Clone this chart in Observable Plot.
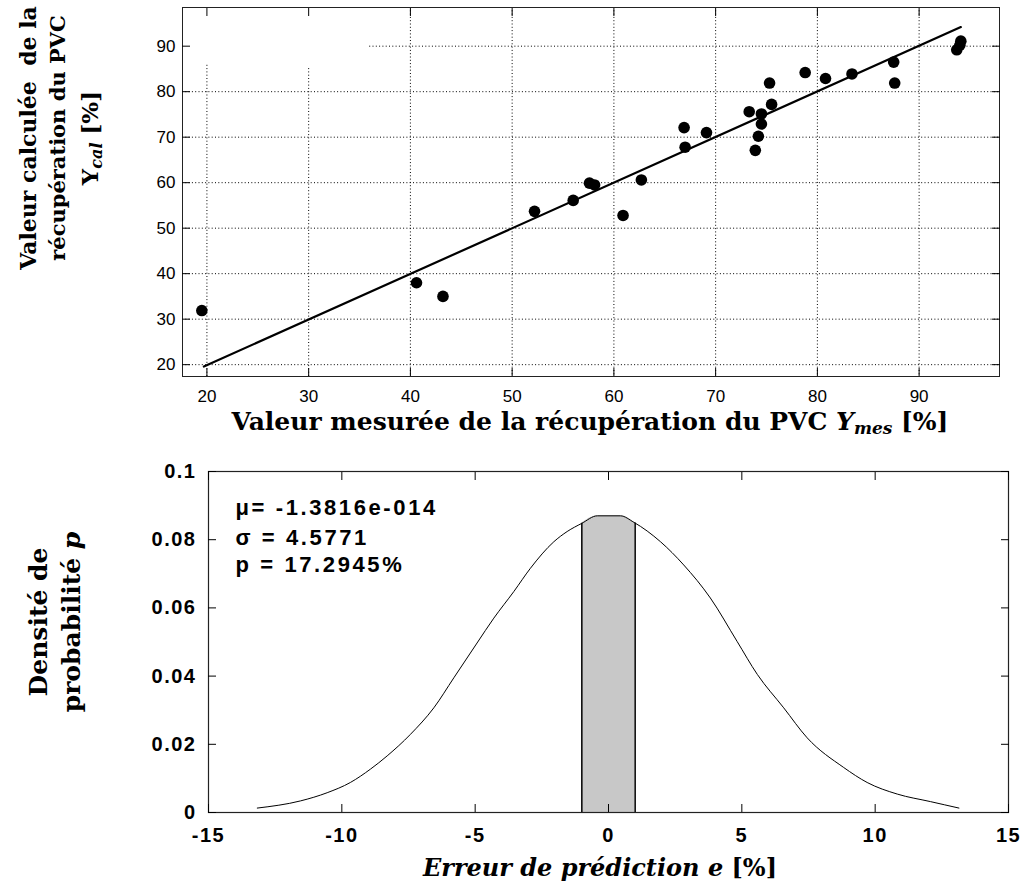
<!DOCTYPE html>
<html><head><meta charset="utf-8">
<script src="https://cdn.jsdelivr.net/npm/d3@7"></script>
<script src="https://cdn.jsdelivr.net/npm/@observablehq/plot@0.6"></script>
<style>
body{margin:0;background:#fff;}
#chart{position:relative;width:1023px;height:885px;overflow:hidden;}
#chart svg{display:block;}
</style></head><body><div id="chart"></div>
<script>
// ---------- top chart data ----------
const measured   = [19.5, 40.6, 43.2, 52.2, 56.0, 57.6, 58.1, 60.9, 62.7, 66.9, 67.0, 69.1, 73.3, 73.9, 74.2, 74.5, 74.5, 75.3, 75.5, 78.8, 80.8, 83.4, 87.5, 87.6, 93.7, 94.0, 94.1];
const calculated = [31.9, 38.0, 35.0, 53.7, 56.1, 59.9, 59.5, 52.8, 60.6, 72.1, 67.8, 71.0, 75.6, 67.1, 70.2, 72.9, 75.1, 81.9, 77.2, 84.2, 82.9, 83.9, 86.5, 81.9, 89.2, 90.2, 91.1];
const fitX = [19.7, 94.1];
const fitY = [19.6, 94.2];
const topTicks = [20, 30, 40, 50, 60, 70, 80, 90];
const partialGridX = [20, 30];
const partialGridTop = [86.2, 85.3];
const grid90From = 36;
const topXTitle = ["Valeur mesurée de la récupération du PVC ", "Y", "mes", " [%]"];
const topYTitle = ["Valeur calculée  de la", "récupération du PVC", "Y", "cal", " [%]"];

// ---------- bottom chart data ----------
const curveE = [-13.17, -11.55, -10.55, -9.68, -8.93, -8.30, -7.43, -6.55, -5.80, -4.93, -4.30, -3.55, -2.93, -2.05, -1.55, -1.00, -0.42, 0.45, 0.95, 1.95, 2.82, 3.82, 4.82, 5.58, 6.57, 7.45, 8.82, 9.70, 10.83, 12.07, 13.14];
const curveP = [0.0013, 0.0034, 0.0058, 0.0088, 0.0127, 0.0166, 0.0229, 0.0307, 0.0395, 0.0497, 0.0570, 0.0648, 0.0716, 0.0794, 0.0824, 0.0848, 0.0870, 0.0870, 0.0851, 0.0794, 0.0726, 0.0629, 0.0502, 0.0405, 0.0307, 0.0219, 0.0132, 0.0088, 0.0054, 0.0032, 0.0013];
const bandE = [-1.0, -0.42, 0.45, 1.0];
const bandP = [0.0848, 0.0870, 0.0870, 0.0849];
const bottomXTicks = [-15, -10, -5, 0, 5, 10, 15];
const bottomYTicks = [0, 0.02, 0.04, 0.06, 0.08, 0.1];
const statsLines = ["μ= -1.3816e-014", "σ = 4.5771", "p = 17.2945%"];
const bottomXTitle = ["Erreur de prédiction e", " [%]"];
const bottomYTitle = ["Densité de", "probabilité ", "p"];

const serif = "'DejaVu Serif', 'Liberation Serif', serif";
const sans = "'Liberation Sans', Arial, Helvetica, sans-serif";
const chart = document.getElementById("chart");

// ---------- top plot ----------
const xDomTop = [17.6, 97.9], yDomTop = [17.4, 98.5];
const dash = "1,2.3";
const scatter = measured.map((m, i) => ({m, c: calculated[i]}));
const fit = fitX.map((x, i) => ({x, y: fitY[i]}));
const partial = partialGridX.map((x, i) => ({x, top: partialGridTop[i]}));

const topPlot = Plot.plot({
  width: 1023, height: 440,
  marginLeft: 182, marginRight: 24, marginTop: 7, marginBottom: 64,
  x: {domain: xDomTop}, y: {domain: yDomTop},
  style: {fontFamily: sans, fontSize: "17px", color: "#000", background: "#fff"},
  marks: [
    Plot.ruleX(topTicks.filter(t => !partialGridX.includes(t)), {x: d => d, stroke: "#000", strokeWidth: 1, strokeDasharray: dash}),
    Plot.ruleX(partial, {x: "x", y1: yDomTop[0], y2: "top", stroke: "#000", strokeWidth: 1, strokeDasharray: dash}),
    Plot.ruleY(topTicks.filter(t => t !== 90), {y: d => d, stroke: "#000", strokeWidth: 1, strokeDasharray: dash}),
    Plot.ruleY([90], {y: d => d, x1: grid90From, x2: xDomTop[1], stroke: "#000", strokeWidth: 1, strokeDasharray: dash}),
    Plot.line(fit, {x: "x", y: "y", stroke: "#000", strokeWidth: 2.2}),
    Plot.dot(scatter, {x: "m", y: "c", r: 5.8, fill: "#000", stroke: "none"}),
    Plot.frame({stroke: "#222", strokeWidth: 1}),
    Plot.axisX({anchor: "bottom", ticks: topTicks, tickSize: -8, tickPadding: 21, tickFormat: d => String(d), label: null, fontSize: 17}),
    Plot.axisX({anchor: "top", ticks: topTicks, tickSize: -8, fill: "none", label: null}),
    Plot.axisY({anchor: "left", ticks: topTicks, tickSize: -8, tickPadding: 15, tickFormat: d => String(d), label: null, fontSize: 17}),
    Plot.axisY({anchor: "right", ticks: topTicks, tickSize: -8, fill: "none", label: null})
  ]
});
chart.appendChild(topPlot);

const ts = d3.select(topPlot);
{
  const t = ts.append("text").attr("x", 590).attr("y", 430).attr("text-anchor", "middle")
    .style("font-family", serif).style("font-weight", "bold").style("font-size", "25px").attr("fill", "#000");
  t.append("tspan").text(topXTitle[0]);
  t.append("tspan").style("font-style", "italic").text(topXTitle[1]);
  t.append("tspan").style("font-style", "italic").style("font-size", "17px").attr("dy", 4).text(topXTitle[2]);
  t.append("tspan").attr("dy", -4).text(topXTitle[3]);

  const g = ts.append("g").attr("transform", "translate(0,138) rotate(-90)")
    .style("font-family", serif).style("font-weight", "bold").style("font-size", "22px").attr("fill", "#000").attr("text-anchor", "middle");
  g.append("text").attr("x", 0).attr("y", 36).text(topYTitle[0]);
  g.append("text").attr("x", 0).attr("y", 65).style("font-size", "21px").text(topYTitle[1]);
  const l3 = g.append("text").attr("x", 0).attr("y", 98).style("font-size", "23px");
  l3.append("tspan").text(topYTitle[2]);
  l3.append("tspan").style("font-style", "italic").style("font-size", "16px").attr("dy", 4).text(topYTitle[3]);
  l3.append("tspan").attr("dy", -4).text(topYTitle[4]);
}

// ---------- bottom plot ----------
const curve = curveE.map((e, i) => ({e, p: curveP[i]}));
const band = bandE.map((e, i) => ({e, p: bandP[i]}));
const edges = [band[0], band[band.length - 1]];

const bottomPlot = Plot.plot({
  width: 1023, height: 445,
  marginLeft: 208, marginRight: 15, marginTop: 31, marginBottom: 73,
  x: {domain: [-15, 15]}, y: {domain: [0, 0.1]},
  style: {fontFamily: sans, fontSize: "20px", fontWeight: "bold", color: "#000", background: "#fff", letterSpacing: "1.5px"},
  marks: [
    Plot.areaY(band, {x: "e", y: "p", fill: "#c8c8c8", curve: "monotone-x"}),
    Plot.ruleX(edges, {x: "e", y1: 0, y2: "p", stroke: "#000", strokeWidth: 1.5}),
    Plot.line(curve, {x: "e", y: "p", stroke: "#000", strokeWidth: 1, curve: "monotone-x"}),
    Plot.frame({stroke: "#222", strokeWidth: 1.2}),
    Plot.axisX({anchor: "bottom", ticks: bottomXTicks, tickSize: -8, tickPadding: 23, tickFormat: d => String(d), label: null, fontSize: 20, fontWeight: "bold"}),
    Plot.axisX({anchor: "top", ticks: bottomXTicks, tickSize: -8, fill: "none", label: null}),
    Plot.axisY({anchor: "left", ticks: bottomYTicks, tickSize: -8, tickPadding: 20, tickFormat: d => String(d), label: null, fontSize: 20, fontWeight: "bold"}),
    Plot.axisY({anchor: "right", ticks: bottomYTicks, tickSize: -8, fill: "none", label: null}),
    Plot.text([statsLines[0]], {frameAnchor: "top-left", dx: 27, dy: 28, text: d => d, textAnchor: "start", lineAnchor: "top", fontSize: 22, fontWeight: "bold"}),
    Plot.text([statsLines[1]], {frameAnchor: "top-left", dx: 27, dy: 58, text: d => d, textAnchor: "start", lineAnchor: "top", fontSize: 22, fontWeight: "bold"}),
    Plot.text([statsLines[2]], {frameAnchor: "top-left", dx: 27, dy: 85, text: d => d, textAnchor: "start", lineAnchor: "top", fontSize: 22, fontWeight: "bold"})
  ]
});
chart.appendChild(bottomPlot);

const bs = d3.select(bottomPlot);
bs.selectAll('g[aria-label="text"] text').style("letter-spacing", "2.6px");
{
  const t = bs.append("text").attr("x", 600).attr("y", 436).attr("text-anchor", "middle")
    .style("font-family", serif).style("font-weight", "bold").style("font-size", "24px").style("letter-spacing", "0px").attr("fill", "#000");
  t.append("tspan").style("font-style", "italic").text(bottomXTitle[0]);
  t.append("tspan").text(bottomXTitle[1]);

  const g = bs.append("g").attr("transform", "translate(0,182) rotate(-90)")
    .style("font-family", serif).style("font-weight", "bold").style("font-size", "25px").style("letter-spacing", "0px").attr("fill", "#000").attr("text-anchor", "middle");
  g.append("text").attr("x", 0).attr("y", 47).text(bottomYTitle[0]);
  const l2 = g.append("text").attr("x", 0).attr("y", 80);
  l2.append("tspan").text(bottomYTitle[1]);
  l2.append("tspan").style("font-style", "italic").text(bottomYTitle[2]);
}
</script>
</body></html>
